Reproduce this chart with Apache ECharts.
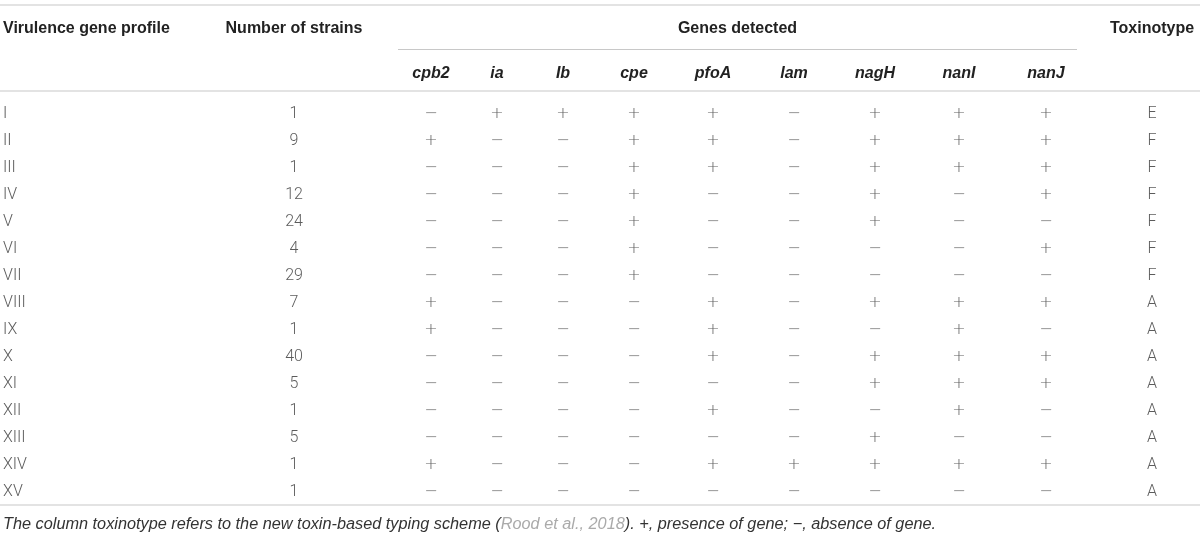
<!DOCTYPE html>
<html>
<head>
<meta charset="utf-8">
<script src="https://cdn.jsdelivr.net/npm/echarts@6/dist/echarts.min.js"></script>
<style>
  html, body { margin: 0; padding: 0; background: #fff; }
  #table { width: 1200px; height: 537px; filter: grayscale(100%); }
</style>
</head>
<body>
<div id="table"></div>
<script>
// table data
const profiles = ['I', 'II', 'III', 'IV', 'V', 'VI', 'VII', 'VIII', 'IX', 'X', 'XI', 'XII', 'XIII', 'XIV', 'XV'];
const strains = [1, 9, 1, 12, 24, 4, 29, 7, 1, 40, 5, 1, 5, 1, 1];
const genes = ['cpb2', 'ia', 'Ib', 'cpe', 'pfoA', 'lam', 'nagH', 'nanI', 'nanJ'];
// 1 = gene present, 0 = absent, in the order of genes
const presence = [
    '011110111', '100110111', '000110111', '000100101', '000100100',
    '000100001', '000100000', '100010111', '100010010', '000010111',
    '000000111', '000010010', '000000100', '100011111', '000000000'
];
const toxinotypes = ['E', 'F', 'F', 'F', 'F', 'F', 'F', 'A', 'A', 'A', 'A', 'A', 'A', 'A', 'A'];
const headers = ['Virulence gene profile', 'Number of strains', 'Genes detected', 'Toxinotype'];
const note = 'The column toxinotype refers to the new toxin-based typing scheme (';
const noteRef = 'Rood et al., 2018';
const noteEnd = '). +, presence of gene; \u2212, absence of gene.';

// layout
const xProfile = 3, xStrains = 294, xToxin = 1152;
const xGenes = [431, 497, 563, 634, 713, 794, 875, 959, 1046];
const headFont = 'Liberation Sans, Arial, sans-serif';
const bodyFont = 'Roboto, Liberation Sans, sans-serif';
const signFont = 'DejaVu Sans, sans-serif';

let myChart = echarts.init(document.getElementById('table'), null, {renderer: 'svg'});

function cellSeries(name, x, texts, align, font, size, weight) {
    return {
        name: name,
        type: 'scatter',
        symbolSize: 0,
        silent: true,
        itemStyle: {color: 'rgba(0,0,0,0)'},
        data: texts.map((t, i) => [x, profiles[i], t]),
        label: {
            show: true,
            position: 'inside',
            align: align || 'center',
            verticalAlign: 'middle',
            formatter: (p) => p.value[2],
            color: '#333',
            textBorderWidth: 0,
            textBorderColor: 'transparent',
            fontFamily: font || bodyFont,
            fontWeight: weight || 300,
            fontSize: size || 16
        }
    };
}

let series = [
    cellSeries('profile', xProfile, profiles, 'left'),
    cellSeries('strains', xStrains, strains.map(String))
];
genes.forEach((g, j) => {
    series.push(cellSeries(g, xGenes[j], presence.map((r) => r[j] == '1' ? '+' : '\u2212'),
        'center', signFont, 16, 200));
});
series.push(cellSeries('toxinotype', xToxin, toxinotypes));

function line(x1, x2, y, color, w) {
    return {type: 'line', silent: true, shape: {x1: x1, y1: y, x2: x2, y2: y},
        style: {stroke: color, lineWidth: w}};
}
function headText(x, y, text, align, italic) {
    return {type: 'text', x: x, y: y, silent: true,
        style: {text: text, textAlign: align, textVerticalAlign: 'middle', fill: '#222',
            font: (italic ? 'italic ' : '') + 'bold 16px ' + headFont}};
}

let graphics = [
    line(0, 1200, 5, '#e3e3e3', 2),
    headText(xProfile, 27, headers[0], 'left'),
    headText(xStrains, 27, headers[1], 'center'),
    headText((398 + 1077) / 2, 27, headers[2], 'center'),
    headText(xToxin, 27, headers[3], 'center'),
    line(398, 1077, 49.5, '#c8c8c8', 1),
    line(0, 1200, 91, '#e3e3e3', 2),
    line(0, 1200, 505, '#e3e3e3', 2),
    {
        type: 'text', x: xProfile, y: 523, silent: true,
        style: {
            text: '{a|' + note + '}{b|' + noteRef + '}{a|' + noteEnd + '}',
            textVerticalAlign: 'middle',
            rich: {
                a: {fill: '#333', fontFamily: headFont, fontStyle: 'italic', fontSize: 16.3},
                b: {fill: '#aaa', fontFamily: headFont, fontStyle: 'italic', fontSize: 16.3}
            }
        }
    }
];
genes.forEach((g, j) => graphics.push(headText(xGenes[j], 72, g, 'center', true)));

let option = {
    animation: false,
    grid: {left: 0, right: 0, top: 98.5, height: 405},
    xAxis: {type: 'value', min: 0, max: 1200, show: false},
    yAxis: {type: 'category', data: profiles, inverse: true, show: false},
    graphic: graphics,
    series: series
};
myChart.setOption(option);
</script>
</body>
</html>
